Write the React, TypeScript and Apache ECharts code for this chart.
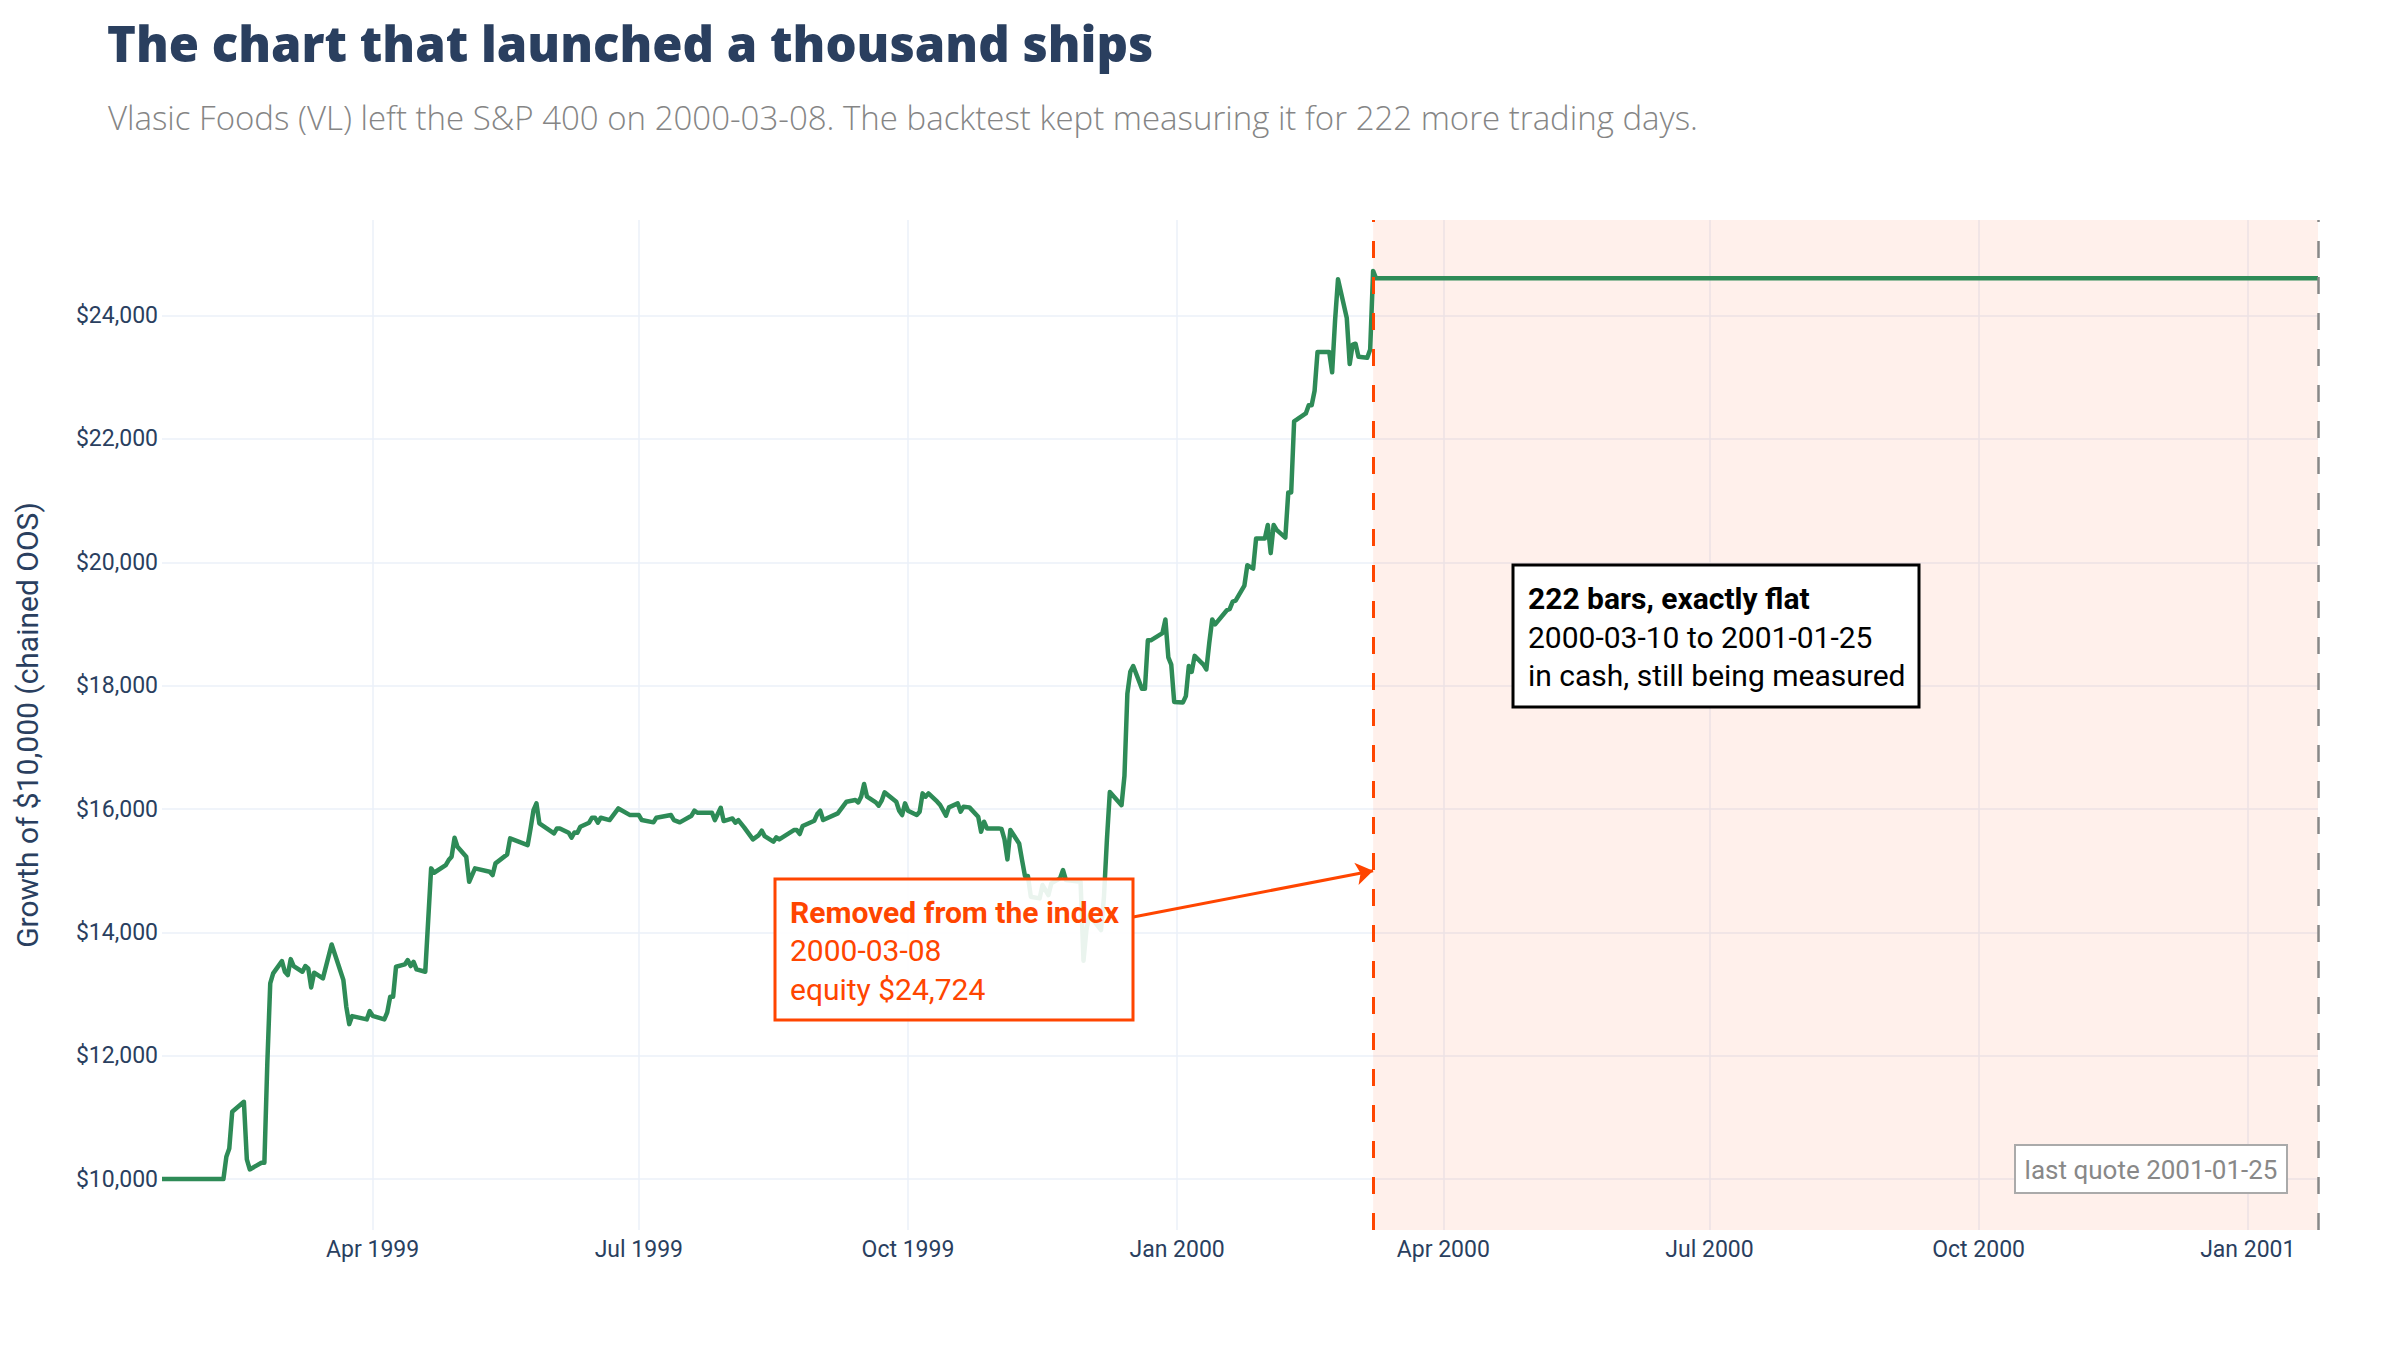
import React, { useEffect, useRef } from "react";
import * as echarts from "echarts";

// ---- data ----
const dates: string[] = [
  "1999-01-19","1999-02-09","1999-02-10","1999-02-11","1999-02-12","1999-02-16","1999-02-17","1999-02-18","1999-02-22","1999-02-23",
  "1999-02-24","1999-02-25","1999-02-26","1999-03-01","1999-03-02","1999-03-03","1999-03-04","1999-03-05","1999-03-08","1999-03-09",
  "1999-03-10","1999-03-11","1999-03-12","1999-03-15","1999-03-18","1999-03-22","1999-03-23","1999-03-24","1999-03-25","1999-03-30",
  "1999-03-31","1999-04-01","1999-04-05","1999-04-06","1999-04-07","1999-04-08","1999-04-09","1999-04-12","1999-04-13","1999-04-14",
  "1999-04-15","1999-04-16","1999-04-19","1999-04-21","1999-04-22","1999-04-26","1999-04-27","1999-04-28","1999-04-29","1999-04-30",
  "1999-05-03","1999-05-04","1999-05-06","1999-05-11","1999-05-12","1999-05-13","1999-05-17","1999-05-18","1999-05-24","1999-05-25",
  "1999-05-26","1999-05-27","1999-05-28","1999-06-02","1999-06-03","1999-06-04","1999-06-07","1999-06-08","1999-06-09","1999-06-10",
  "1999-06-11","1999-06-14","1999-06-15","1999-06-16","1999-06-17","1999-06-18","1999-06-21","1999-06-24","1999-06-28","1999-07-01",
  "1999-07-02","1999-07-06","1999-07-07","1999-07-12","1999-07-13","1999-07-15","1999-07-19","1999-07-20","1999-07-21","1999-07-26",
  "1999-07-27","1999-07-29","1999-07-30","1999-08-02","1999-08-03","1999-08-04","1999-08-06","1999-08-09","1999-08-11","1999-08-12",
  "1999-08-13","1999-08-16","1999-08-17","1999-08-18","1999-08-23","1999-08-24","1999-08-25","1999-08-26","1999-08-30","1999-08-31",
  "1999-09-01","1999-09-02","1999-09-07","1999-09-10","1999-09-13","1999-09-14","1999-09-15","1999-09-16","1999-09-17","1999-09-20",
  "1999-09-21","1999-09-22","1999-09-23","1999-09-27","1999-09-28","1999-09-29","1999-09-30","1999-10-01","1999-10-04","1999-10-05",
  "1999-10-06","1999-10-07","1999-10-08","1999-10-11","1999-10-12","1999-10-14","1999-10-15","1999-10-18","1999-10-19","1999-10-20",
  "1999-10-22","1999-10-25","1999-10-26","1999-10-27","1999-10-28","1999-11-01","1999-11-02","1999-11-03","1999-11-04","1999-11-05",
  "1999-11-08","1999-11-09","1999-11-10","1999-11-11","1999-11-12","1999-11-15","1999-11-16","1999-11-18","1999-11-19","1999-11-22",
  "1999-11-23","1999-11-24","1999-11-29","1999-11-30","1999-12-01","1999-12-02","1999-12-06","1999-12-07","1999-12-08","1999-12-09",
  "1999-12-13","1999-12-14","1999-12-15","1999-12-16","1999-12-17","1999-12-20","1999-12-21","1999-12-22","1999-12-23","1999-12-27",
  "1999-12-28","1999-12-29","1999-12-30","1999-12-31","2000-01-03","2000-01-04","2000-01-05","2000-01-06","2000-01-07","2000-01-10",
  "2000-01-11","2000-01-12","2000-01-13","2000-01-14","2000-01-18","2000-01-19","2000-01-20","2000-01-21","2000-01-24","2000-01-25",
  "2000-01-27","2000-01-28","2000-01-31","2000-02-01","2000-02-02","2000-02-03","2000-02-04","2000-02-07","2000-02-08","2000-02-09",
  "2000-02-10","2000-02-14","2000-02-15","2000-02-16","2000-02-17","2000-02-18","2000-02-22","2000-02-23","2000-02-24","2000-02-25",
  "2000-02-28","2000-02-29","2000-03-01","2000-03-02","2000-03-03","2000-03-06","2000-03-07","2000-03-08","2000-03-09","2000-03-10",
  "2001-01-25",
];

const equity: number[] = [
  10000,10000,10362,10497,11092,11254,10319,10157,10265,10265,
  11876,13173,13335,13535,13362,13308,13567,13454,13362,13454,
  13416,13108,13346,13254,13805,13227,12794,12513,12643,12589,
  12724,12648,12589,12702,12956,12956,13443,13481,13551,13454,
  13524,13400,13362,15038,14967,15092,15173,15227,15535,15389,
  15227,14821,15038,14983,14929,15119,15265,15524,15416,15686,
  15983,16092,15767,15605,15686,15686,15616,15535,15621,15616,
  15713,15778,15859,15859,15778,15859,15821,16010,15902,15902,
  15821,15784,15859,15902,15821,15784,15892,15973,15940,15940,
  15821,16021,15805,15848,15778,15821,15703,15508,15578,15649,
  15562,15470,15541,15508,15659,15659,15595,15724,15811,15919,
  15973,15822,15930,16119,16146,16108,16200,16405,16200,16108,
  16054,16135,16270,16119,15973,15903,16092,15973,15903,15957,
  16254,16200,16254,16119,16065,15892,16027,16092,15957,16038,
  16027,15876,15632,15795,15686,15686,15676,15508,15184,15659,
  15443,15173,14913,14913,14578,14551,14768,14605,14795,14876,
  15011,14849,14822,13541,14038,14281,14038,14578,15497,16275,
  16063,16535,17870,18224,18318,17949,17949,18735,18735,18853,
  19073,18460,18342,17737,17729,17831,18318,18224,18483,18342,
  18263,18695,19073,18994,19222,19245,19363,19379,19623,19953,
  19898,20385,20385,20605,20149,20605,20526,20401,21132,21132,
  22287,22413,22546,22546,22782,23411,23411,23080,23921,24590,
  23961,23214,23529,23544,23332,23316,23450,24724,24605,24605,
  24605,
];

const xTicks: string[] = ["1999-04-01","1999-07-01","1999-10-01","2000-01-01","2000-04-01","2000-07-01","2000-10-01","2001-01-01"];
const xTickLabels: string[] = ["Apr 1999","Jul 1999","Oct 1999","Jan 2000","Apr 2000","Jul 2000","Oct 2000","Jan 2001"];
const yTicks: number[] = [10000, 12000, 14000, 16000, 18000, 20000, 22000, 24000];
const yTickLabels: string[] = ["$10,000","$12,000","$14,000","$16,000","$18,000","$20,000","$22,000","$24,000"];

const startDate = "1999-01-19";
const removedDate = "2000-03-08";
const lastQuoteDate = "2001-01-25";
const yMin = 9175;
const yMax = 25550;
const arrowFromPoint: [string, number] = ["1999-12-17", 14250];
const arrowToPoint: [string, number] = ["2000-03-08", 15000];

const titleText = "The chart that launched a thousand ships";
const subtitleText = "Vlasic Foods (VL) left the S&P 400 on 2000-03-08. The backtest kept measuring it for 222 more trading days.";
const yTitleText = "Growth of $10,000 (chained OOS)";
const removedLines = ["Removed from the index", "2000-03-08", "equity $24,724"];
const flatLines = ["222 bars, exactly flat", "2000-03-10 to 2001-01-25", "in cash, still being measured"];
const lastQuoteText = "last quote 2001-01-25";

// ---- helpers ----
const t = (s: string) => {
  const [y, m, d] = s.split("-").map(Number);
  return new Date(y, m - 1, d).getTime();
};

const NAVY = "#2a3f5f";
const ORANGE = "#ff4500";
const GREEN = "#2e8b57";
const GRID = "#ebf0f8";
const ROBOTO = "Roboto, 'Noto Sans', sans-serif";
const TITLE_FONT = "'Open Sans', Lato, sans-serif";

export default function App() {
  const ref = useRef<HTMLDivElement>(null);

  useEffect(() => {
    if (!ref.current) return;
    const chart = echarts.init(ref.current, undefined, { renderer: "svg" });

    const seriesData = dates.map((d, i) => [t(d), equity[i]]);

    const gridLines = [
      ...xTicks.map((d, i) => ({
        xAxis: t(d),
        name: xTickLabels[i],
        label: { position: "start", distance: 8 },
      })),
      ...yTicks.map((v, i) => ({
        yAxis: v,
        name: yTickLabels[i],
        label: { position: "start", distance: 4 },
      })),
    ];

    const option: any = {
      animation: false,
      backgroundColor: "#ffffff",
      grid: { left: 162, right: 82, top: 220, bottom: 120, outerBoundsMode: "none", containLabel: false },
      xAxis: {
        type: "time",
        min: t(startDate),
        max: t(lastQuoteDate),
        axisLine: { show: false },
        axisTick: { show: false },
        axisLabel: { show: false },
        splitLine: { show: false },
      },
      yAxis: {
        type: "value",
        min: yMin,
        max: yMax,
        axisLine: { show: false },
        axisTick: { show: false },
        axisLabel: { show: false },
        splitLine: { show: false },
      },
      series: [
        {
          type: "line",
          name: "grid",
          data: [],
          silent: true,
          markLine: {
            z: 1,
            silent: true,
            symbol: ["none", "none"],
            lineStyle: { color: GRID, width: 1.5, type: "solid" },
            label: {
              show: true,
              formatter: "{b}",
              color: NAVY,
              fontSize: 23,
              fontFamily: ROBOTO,
            },
            emphasis: { disabled: true },
            data: gridLines,
          },
          markArea: {
            z: 2,
            silent: true,
            itemStyle: { color: "rgba(255,69,0,0.08)" },
            label: { show: false },
            data: [[{ xAxis: t(removedDate) }, { xAxis: t(lastQuoteDate) }]],
          },
        },
        {
          type: "line",
          name: "equity",
          z: 3,
          data: seriesData,
          showSymbol: false,
          symbol: "none",
          silent: true,
          lineStyle: { color: GREEN, width: 4.5, join: "round" },
        },
        {
          type: "line",
          name: "markers",
          data: [],
          silent: true,
          markLine: {
            z: 4,
            silent: true,
            symbol: ["none", "none"],
            label: { show: false },
            emphasis: { disabled: true },
            data: [
              { xAxis: t(removedDate), lineStyle: { color: ORANGE, width: 3, type: [17, 19] } },
              { xAxis: t(lastQuoteDate), lineStyle: { color: "#888888", width: 2.5, type: [17, 19] } },
            ],
          },
        },
        {
          type: "line",
          name: "arrow",
          data: [],
          silent: true,
          markLine: {
            z: 5,
            silent: true,
            symbol: ["none", "arrow"],
            symbolSize: 17,
            label: { show: false },
            emphasis: { disabled: true },
            lineStyle: { color: ORANGE, width: 3, type: "solid" },
            data: [[
              { coord: [t(arrowFromPoint[0]), arrowFromPoint[1]] },
              { coord: [t(arrowToPoint[0]), arrowToPoint[1]] },
            ]],
          },
        },
      ],
      graphic: [
        {
          type: "text", x: 107, y: 43, z: 20,
          style: { text: titleText, fill: NAVY, fontSize: 49, fontWeight: 800, fontFamily: TITLE_FONT, verticalAlign: "middle", align: "left" },
        },
        {
          type: "text", x: 108, y: 117, z: 20,
          style: { text: subtitleText, fill: "#858585", fontSize: 33, fontWeight: 300, fontFamily: TITLE_FONT, verticalAlign: "middle", align: "left" },
        },
        {
          type: "text", x: 27, y: 725, rotation: Math.PI / 2, z: 20,
          style: { text: yTitleText, fill: NAVY, fontSize: 30, fontFamily: ROBOTO, verticalAlign: "middle", align: "center" },
        },
        // removed box
        {
          type: "rect", z: 20,
          shape: { x: 775, y: 879, width: 358, height: 141 },
          style: { fill: "rgba(255,255,255,0.9)", stroke: ORANGE, lineWidth: 3 },
        },
        {
          type: "text", x: 790, y: 912, z: 21,
          style: { text: removedLines[0], fill: ORANGE, fontSize: 30, fontWeight: 700, fontFamily: ROBOTO, verticalAlign: "middle" },
        },
        {
          type: "text", x: 790, y: 950.5, z: 21,
          style: { text: removedLines[1], fill: ORANGE, fontSize: 30, fontFamily: ROBOTO, verticalAlign: "middle" },
        },
        {
          type: "text", x: 790, y: 989.5, z: 21,
          style: { text: removedLines[2], fill: ORANGE, fontSize: 30, fontFamily: ROBOTO, verticalAlign: "middle" },
        },
        // flat box
        {
          type: "rect", z: 20,
          shape: { x: 1513, y: 565, width: 406, height: 142 },
          style: { fill: "#ffffff", stroke: "#000000", lineWidth: 3 },
        },
        {
          type: "text", x: 1528, y: 598, z: 21,
          style: { text: flatLines[0], fill: "#000000", fontSize: 30, fontWeight: 700, fontFamily: ROBOTO, verticalAlign: "middle" },
        },
        {
          type: "text", x: 1528, y: 637, z: 21,
          style: { text: flatLines[1], fill: "#000000", fontSize: 30, fontFamily: ROBOTO, verticalAlign: "middle" },
        },
        {
          type: "text", x: 1528, y: 675.5, z: 21,
          style: { text: flatLines[2], fill: "#000000", fontSize: 30, fontFamily: ROBOTO, verticalAlign: "middle" },
        },
        // last quote box
        {
          type: "rect", z: 20,
          shape: { x: 2015, y: 1145, width: 272, height: 48 },
          style: { fill: "#ffffff", stroke: "#aaaaaa", lineWidth: 2 },
        },
        {
          type: "text", x: 2151, y: 1170, z: 21,
          style: { text: lastQuoteText, fill: "#888888", fontSize: 26, fontFamily: ROBOTO, verticalAlign: "middle", align: "center" },
        },
      ],
    };

    chart.setOption(option);
    return () => chart.dispose();
  }, []);

  return (
    <div
      ref={ref}
      style={{ position: "fixed", left: 0, top: 0, width: 2400, height: 1350, background: "#ffffff" }}
    />
  );
}
